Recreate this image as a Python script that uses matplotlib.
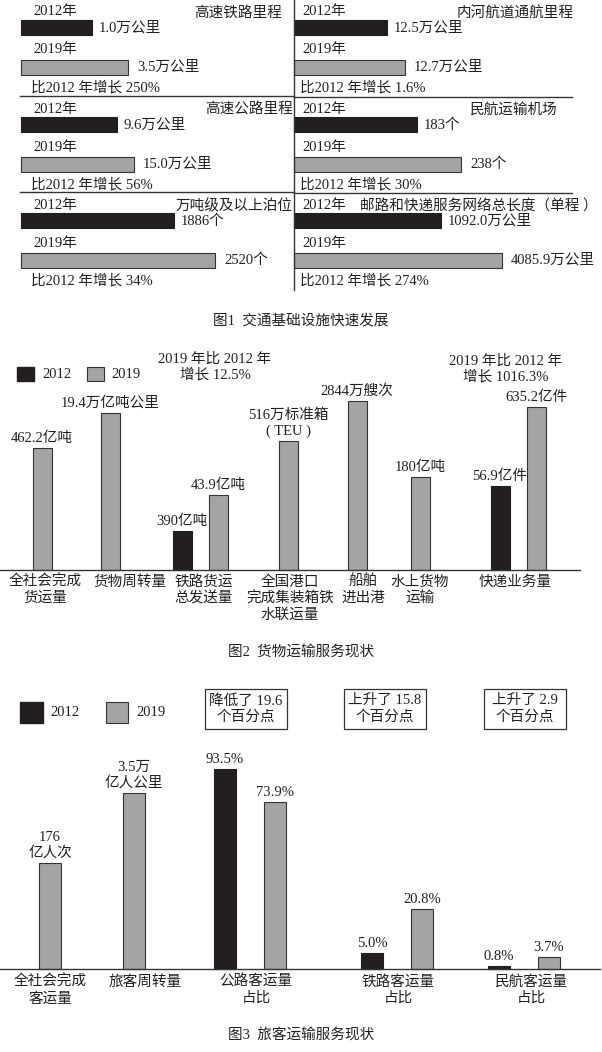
import matplotlib.pyplot as plt
import numpy as np
from matplotlib.patches import Rectangle

W, H = 602, 1052
FONT = ["Liberation Serif", "Noto Sans CJK SC"]
BLACK = "#231f20"
GRAY = "#a3a4a4"
EDGE = "#333333"
FS = 10.5
LS = 1.25

# 图1 交通基础设施快速发展
infra_titles = ["高速铁路里程", "高速公路里程", "万吨级及以上泊位",
                "内河航道通航里程", "民航运输机场", "邮路和快递服务网络总长度（单程 ）"]
infra_lbl_2012 = ["1.0万公里", "9.6万公里", "1886个", "12.5万公里", "183个", "1092.0万公里"]
infra_lbl_2019 = ["3.5万公里", "15.0万公里", "2520个", "12.7万公里", "238个", "4085.9万公里"]
infra_growth = ["250%", "56%", "34%", "1.6%", "30%", "274%"]
# bar lengths as drawn in the source (not to scale across items)
infra_len_2012 = [71, 96, 153, 93, 123, 147]
infra_len_2019 = [107, 113, 194, 111, 167, 208]

# 图2 货物运输服务现状
freight_cats = ["全社会完成\n货运量", "货物周转量", "铁路货运\n总发送量",
                "全国港口\n完成集装箱铁\n水联运量", "船舶\n进出港", "水上货物\n运输", "快递业务量"]
freight_h_2012 = [np.nan, np.nan, 39, np.nan, np.nan, np.nan, 84]
freight_h_2019 = [122, 157, 75, 129, 169, 93, 163]
freight_lbl_2012 = ["", "", "390亿吨", "", "", "", "56.9亿件"]
freight_lbl_2019 = ["462.2亿吨", "19.4万亿吨公里", "43.9亿吨", "516万标准箱\n( TEU )",
                    "2844万艘次", "180亿吨", "635.2亿件"]
freight_notes = ["2019 年比 2012 年\n增长 12.5%", "2019 年比 2012 年\n增长 1016.3%"]

# 图3 旅客运输服务现状
pass_cats = ["全社会完成\n客运量", "旅客周转量", "公路客运量\n占比", "铁路客运量\n占比", "民航客运量\n占比"]
pass_h_2012 = [np.nan, np.nan, 200, 16, 3]
pass_h_2019 = [106, 176, 167, 60, 12]
pass_lbl_2012 = ["", "", "93.5%", "5.0%", "0.8%"]
pass_lbl_2019 = ["176\n亿人次", "3.5万\n亿人公里", "73.9%", "20.8%", "3.7%"]
pass_notes = ["降低了 19.6\n个百分点", "上升了 15.8\n个百分点", "上升了 2.9\n个百分点"]

fig = plt.figure(figsize=(W / 100, H / 100), dpi=100)
ax = fig.add_axes([0, 0, 1, 1])
ax.set_xlim(0, W)
ax.set_ylim(H, 0)
ax.axis("off")


def txt(x, y, s, ha="left", va="center", fs=FS, **kw):
    ax.text(x, y, s, ha=ha, va=va, fontsize=fs, family=FONT, color="#231f20", **kw)


# ---------- figure 1 ----------
panel_x = [21, 294]
tops = [0, 97, 193]
title_pos = [(282, "right"), (293, "right"), (293, "right"),
             (457, "left"), (470, "left"), (360, "left")]
for i in range(6):
    col, row = divmod(i, 3)
    x0, top = panel_x[col], tops[row]
    tx = 33 if col == 0 else 302
    txt(tx, top + 12, "2012年")
    ax.barh(top + 27, infra_len_2012[i], left=x0, height=15, color=BLACK, edgecolor=BLACK, lw=0.8)
    txt(x0 + infra_len_2012[i] + 7, top + 28, infra_lbl_2012[i])
    txt(tx, top + 50, "2019年")
    ax.barh(top + 67, infra_len_2019[i], left=x0, height=15, color=GRAY, edgecolor=EDGE, lw=0.8)
    txt(x0 + infra_len_2019[i] + 9, top + 67, infra_lbl_2019[i])
    txt(tx - 2, top + 88, "比2012 年增长 " + infra_growth[i])
    px, pha = title_pos[i]
    txt(px, top + 13, infra_titles[i], ha=pha)

ax.plot([294, 294], [0, 290], color=EDGE, lw=1)
for y in tops[1:]:
    ax.plot([20, 294], [y - 1, y - 1], color=EDGE, lw=1)
    ax.plot([294, 572], [y, y], color=EDGE, lw=1)
txt(301, 321, "图1  交通基础设施快速发展", ha="center")


# ---------- bar charts ----------
def bar_group(centers, h12, h19, l12, l19, base, off, width):
    c = np.array(centers, dtype=float)
    h12 = np.array(h12, dtype=float)
    h19 = np.array(h19, dtype=float)
    pair = ~np.isnan(h12)
    x12 = c - off
    x19 = np.where(pair, c + off, c)
    ax.bar(x12[pair], -h12[pair], bottom=base, width=width, color=BLACK, edgecolor=BLACK, lw=0.8)
    ax.bar(x19, -h19, bottom=base, width=width, color=GRAY, edgecolor=EDGE, lw=0.8)
    for i in range(len(c)):
        if pair[i]:
            txt(x12[i], base - h12[i] - 3, l12[i], ha="center", va="bottom", linespacing=LS)
        txt(x19[i], base - h19[i] - 3, l19[i], ha="center", va="bottom", linespacing=LS)


fr_centers = [42, 110, 200, 288, 357, 420, 518]
bar_group(fr_centers, freight_h_2012, freight_h_2019, freight_lbl_2012, freight_lbl_2019,
          base=570, off=18, width=19)
ax.plot([0, 580], [570, 570], color=EDGE, lw=1)
fr_lab_x = [45, 130, 204, 290, 363, 420, 515]
for x, s in zip(fr_lab_x, freight_cats):
    txt(x, 575, s, ha="center", va="top", linespacing=LS)

ax.add_patch(Rectangle((17, 367), 17, 14, color=BLACK))
txt(42, 374, "2012")
ax.add_patch(Rectangle((87, 367), 17, 14, facecolor=GRAY, edgecolor=EDGE, lw=0.8))
txt(111, 374, "2019")
txt(215, 367, freight_notes[0], ha="center", linespacing=LS)
txt(506, 369, freight_notes[1], ha="center", linespacing=LS)
txt(301, 652, "图2  货物运输服务现状", ha="center")

ps_centers = [50, 134, 250, 397, 524]
bar_group(ps_centers, pass_h_2012, pass_h_2019, pass_lbl_2012, pass_lbl_2019,
          base=969, off=25, width=22)
ax.plot([0, 600], [969, 969], color=EDGE, lw=1)
ps_lab_x = [50, 145, 256, 398, 531]
for x, s in zip(ps_lab_x, pass_cats):
    txt(x, 975, s, ha="center", va="top", linespacing=LS)

ax.add_patch(Rectangle((20, 702), 23, 21, color=BLACK))
txt(50, 713, "2012")
ax.add_patch(Rectangle((106, 702), 22, 21, facecolor=GRAY, edgecolor=EDGE, lw=0.8))
txt(136, 713, "2019")
for (bx0, bx1), s in zip([(205, 287), (344, 426), (484, 566)], pass_notes):
    ax.add_patch(Rectangle((bx0, 689), bx1 - bx0, 40, fill=False, edgecolor=EDGE, lw=0.9))
    txt((bx0 + bx1) / 2, 709, s, ha="center", linespacing=LS)
txt(301, 1035, "图3  旅客运输服务现状", ha="center")

fig.savefig("out.png", dpi=100, facecolor="white")
